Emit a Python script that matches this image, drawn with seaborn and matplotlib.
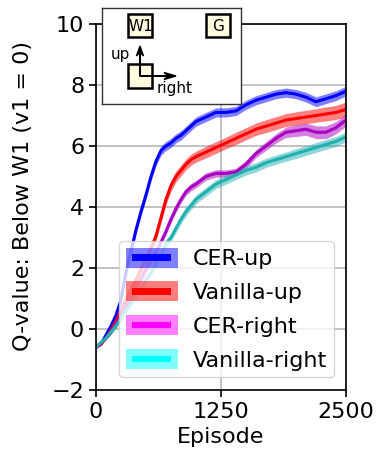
import numpy as np
import pandas as pd
import matplotlib
matplotlib.use("Agg")
import matplotlib.pyplot as plt
import seaborn as sns
from matplotlib.patches import Patch, Rectangle

episodes = [0, 50, 100, 150, 200, 250, 300, 350, 400, 450, 500, 550, 600, 650, 700,
            750, 800, 850, 900, 950, 1000, 1100, 1200, 1300, 1400, 1500, 1600, 1700,
            1800, 1900, 2000, 2100, 2200, 2300, 2400, 2500]

cer_up = [-0.6, -0.5, -0.2, 0.1, 0.45, 0.95, 1.85, 2.55, 3.25, 3.85, 4.4, 5.0, 5.5, 5.85, 6.0,
          6.1, 6.25, 6.35, 6.5, 6.65, 6.8, 6.95, 7.1, 7.1, 7.15, 7.35, 7.5, 7.6,
          7.7, 7.75, 7.7, 7.6, 7.45, 7.55, 7.65, 7.8]
vanilla_up = [-0.6, -0.5, -0.3, -0.05, 0.25, 0.6, 0.95, 1.3, 1.6, 1.95, 2.3, 2.65, 3.05, 3.65, 4.25,
              4.7, 5.0, 5.2, 5.4, 5.55, 5.65, 5.8, 5.95, 6.1, 6.25, 6.4, 6.55, 6.65,
              6.75, 6.85, 6.9, 6.95, 7.0, 7.05, 7.1, 7.2]
cer_right = [-0.6, -0.45, -0.3, -0.1, 0.15, 0.45, 0.75, 1.05, 1.35, 1.65, 1.95, 2.25, 2.55, 2.85, 3.2,
             3.6, 3.95, 4.25, 4.5, 4.65, 4.75, 5.0, 5.1, 5.1, 5.15, 5.4, 5.75, 6.0,
             6.25, 6.45, 6.5, 6.55, 6.45, 6.45, 6.6, 6.85]
vanilla_right = [-0.6, -0.45, -0.3, -0.1, 0.1, 0.35, 0.6, 0.85, 1.1, 1.35, 1.6, 1.85, 2.15, 2.45, 2.8,
                 3.0, 3.3, 3.6, 3.85, 4.05, 4.25, 4.5, 4.75, 4.9, 5.05, 5.2, 5.3, 5.45,
                 5.55, 5.65, 5.75, 5.85, 5.95, 6.05, 6.15, 6.3]

# half width of the shaded band
cer_up_band = [0.02, 0.03, 0.05, 0.08, 0.1, 0.12, 0.14, 0.15, 0.15, 0.15, 0.15, 0.15, 0.15, 0.15, 0.15,
               0.15, 0.15, 0.15, 0.15, 0.15, 0.15, 0.15, 0.15, 0.15, 0.15, 0.15, 0.15, 0.15,
               0.15, 0.15, 0.15, 0.16, 0.16, 0.16, 0.16, 0.16]
vanilla_up_band = [0.02, 0.03, 0.05, 0.08, 0.1, 0.12, 0.14, 0.16, 0.18, 0.18, 0.18, 0.18, 0.18, 0.18, 0.18,
                   0.18, 0.18, 0.18, 0.18, 0.18, 0.18, 0.19, 0.19, 0.19, 0.2, 0.2, 0.2, 0.21,
                   0.21, 0.21, 0.22, 0.22, 0.22, 0.23, 0.23, 0.24]
cer_right_band = [0.02, 0.03, 0.05, 0.07, 0.08, 0.1, 0.11, 0.12, 0.12, 0.12, 0.12, 0.12, 0.12, 0.12, 0.12,
                  0.12, 0.12, 0.12, 0.12, 0.12, 0.12, 0.12, 0.12, 0.12, 0.12, 0.13, 0.13, 0.14,
                  0.15, 0.17, 0.19, 0.2, 0.21, 0.21, 0.2, 0.2]
vanilla_right_band = [0.02, 0.03, 0.05, 0.07, 0.08, 0.1, 0.11, 0.12, 0.13, 0.13, 0.13, 0.13, 0.13, 0.13, 0.13,
                      0.13, 0.14, 0.14, 0.14, 0.14, 0.14, 0.14, 0.14, 0.15, 0.15, 0.15, 0.15, 0.15,
                      0.15, 0.15, 0.16, 0.16, 0.16, 0.16, 0.16, 0.16]

labels = ["CER-up", "Vanilla-up", "CER-right", "Vanilla-right"]
means = [cer_up, vanilla_up, cer_right, vanilla_right]
bands = [cer_up_band, vanilla_up_band, cer_right_band, vanilla_right_band]
line_colors = ["blue", "red", "#a800c0", "#20b0b0"]
legend_colors = ["blue", "red", "magenta", "cyan"]

FS = 16


class BandHandler:
    # light box with a solid bar in the middle
    def legend_artist(self, legend, orig_handle, fontsize, handlebox):
        x0, y0 = handlebox.xdescent, handlebox.ydescent
        w, h = handlebox.width, handlebox.height
        c = orig_handle.get_facecolor()
        outer = Rectangle((-x0, -y0), w, h, facecolor=c, alpha=0.5, lw=0,
                          transform=handlebox.get_transform())
        inner = Rectangle((-x0 + 0.13 * w, -y0 + 0.34 * h), 0.74 * w, 0.32 * h,
                          facecolor=c, lw=0, transform=handlebox.get_transform())
        handlebox.add_artist(outer)
        handlebox.add_artist(inner)
        return outer


sns.set_style("ticks")
plt.rcParams["font.family"] = ["DejaVu Sans"]
plt.rcParams["font.size"] = FS
plt.rcParams["text.color"] = "black"
plt.rcParams["axes.labelcolor"] = "black"

fig = plt.figure(figsize=(3.91, 4.75), dpi=100)
ax = fig.add_axes([0.2455, 0.179, 0.6394, 0.7705])

for lab, m, b, c in zip(labels, means, bands, line_colors):
    m = np.array(m)
    b = np.array(b)
    ax.fill_between(episodes, m - b, m + b, color=c, alpha=0.5, lw=0)
    sns.lineplot(x=episodes, y=m, color=c, lw=2.2, ax=ax)

ax.set_xlim(0, 2500)
ax.set_ylim(-2, 10)
ax.set_xticks([0, 1250, 2500])
ax.set_yticks([-2, 0, 2, 4, 6, 8, 10])
ax.grid(True, color="#b8b8b8", lw=1.2)
ax.set_axisbelow(True)
for s in ax.spines.values():
    s.set_color("black")
    s.set_linewidth(1.2)
ax.tick_params(direction="out", length=5, width=1.2, colors="black", labelsize=FS)
ax.set_xlabel("Episode", fontsize=FS, color="black")
ax.set_ylabel("Q-value: Below W1 (v1 = 0)", fontsize=FS, color="black")
ax.yaxis.set_label_coords(-0.252, 0.53)

handles = [Patch(facecolor=c) for c in legend_colors]
leg = ax.legend(handles, labels, loc="upper left", bbox_to_anchor=(0.092, 0.407),
                borderaxespad=0, handlelength=2.34, handleheight=1.0, labelspacing=0.55,
                handletextpad=0.68, borderpad=0.3, fontsize=FS, framealpha=0.8,
                handler_map={Patch: BandHandler()})
for t in leg.get_texts():
    t.set_color("black")

# grid world inset
ins = fig.add_axes([0.260, 0.781, 0.3555, 0.2017])
ins.set_xlim(101.7, 240.7)
ins.set_ylim(104, 8.3)
ins.set_xticks([])
ins.set_yticks([])
for s in ins.spines.values():
    s.set_color("#333333")
    s.set_linewidth(1.0)
cell_fc = "#fffde0"
for cx, cy, txt in [(140.5, 26, "W1"), (218, 26, "G"), (140.5, 76, "")]:
    ins.add_patch(Rectangle((cx - 12, cy - 11.5), 24, 23, facecolor=cell_fc,
                            edgecolor="black", lw=1.8))
    if txt:
        ins.text(cx, cy + 1, txt, ha="center", va="center", fontsize=11)
ins.arrow(140, 76, 0, -30, width=0.6, head_width=7, head_length=10, overhang=0.35,
          length_includes_head=True, color="black")
ins.arrow(140, 76, 36, 0, width=0.6, head_width=7, head_length=12, overhang=0.35,
          length_includes_head=True, color="black")
ins.text(120, 55, "up", ha="center", va="center", fontsize=11)
ins.text(157, 88, "right", ha="left", va="center", fontsize=11)

fig.savefig("out.png", dpi=100)
